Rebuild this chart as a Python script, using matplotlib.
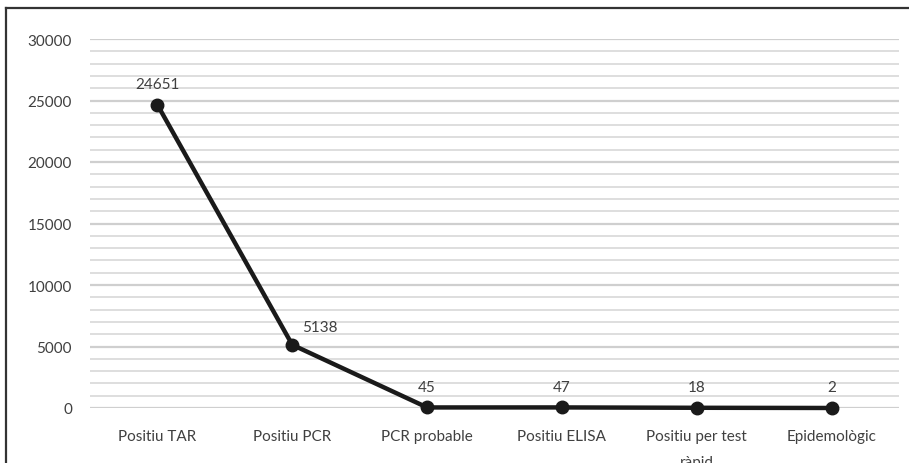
import matplotlib.pyplot as plt
from matplotlib.lines import Line2D
from matplotlib.ticker import MultipleLocator

# test types and number of cases
categories = ["Positiu TAR", "Positiu PCR", "PCR probable", "Positiu ELISA",
              "Positiu per test\nràpid", "Epidemològic"]
cases = [24651, 5138, 45, 47, 18, 2]

plt.rcParams['font.family'] = ['Lato', 'DejaVu Sans']

W, H = 909, 464
fig = plt.figure(figsize=(W / 100, H / 100), dpi=100)
ax = fig.add_axes([90 / W, (H - 409) / H, (899 - 90) / W, (409 - 40) / H])

x = list(range(len(categories)))
ax.plot(x, cases, color="#1a1a1a", lw=3.2, marker="o", markersize=9,
        solid_capstyle="round", zorder=3, clip_on=False)

# value labels above each point, the second one pushed right off the line
for i, v in enumerate(cases):
    dx, dy = (0, 10) if i != 1 else (20, 8)
    ax.annotate(str(v), (i, v), xytext=(dx, dy), textcoords="offset points",
                ha="center", va="bottom", fontsize=11, color="#404040")

ax.set_xlim(-0.5, len(categories) - 0.5)
ax.set_ylim(0, 30000)
ax.yaxis.set_major_locator(MultipleLocator(5000))
ax.yaxis.set_minor_locator(MultipleLocator(1000))
ax.grid(axis="y", which="major", color="#cfcfcf", lw=1.6, zorder=0)
ax.grid(axis="y", which="minor", color="#dedede", lw=1.4, zorder=0)

ax.set_xticks(x)
ax.set_xticklabels(categories, va="top")
for t in ax.get_xticklabels():
    t.set_linespacing(2.1)
ax.tick_params(axis="both", which="both", length=0, labelsize=11,
               labelcolor="#404040")
ax.tick_params(axis="y", pad=13)
ax.tick_params(axis="x", pad=15)
for s in ax.spines.values():
    s.set_visible(False)

# frame around the chart
fig.add_artist(Line2D([6 / W, 6 / W], [0, 1 - 9 / H], color="#333333", lw=1.6))
fig.add_artist(Line2D([6 / W, 1], [1 - 9 / H, 1 - 9 / H], color="#333333", lw=1.6))

fig.savefig("out.png", dpi=100)
